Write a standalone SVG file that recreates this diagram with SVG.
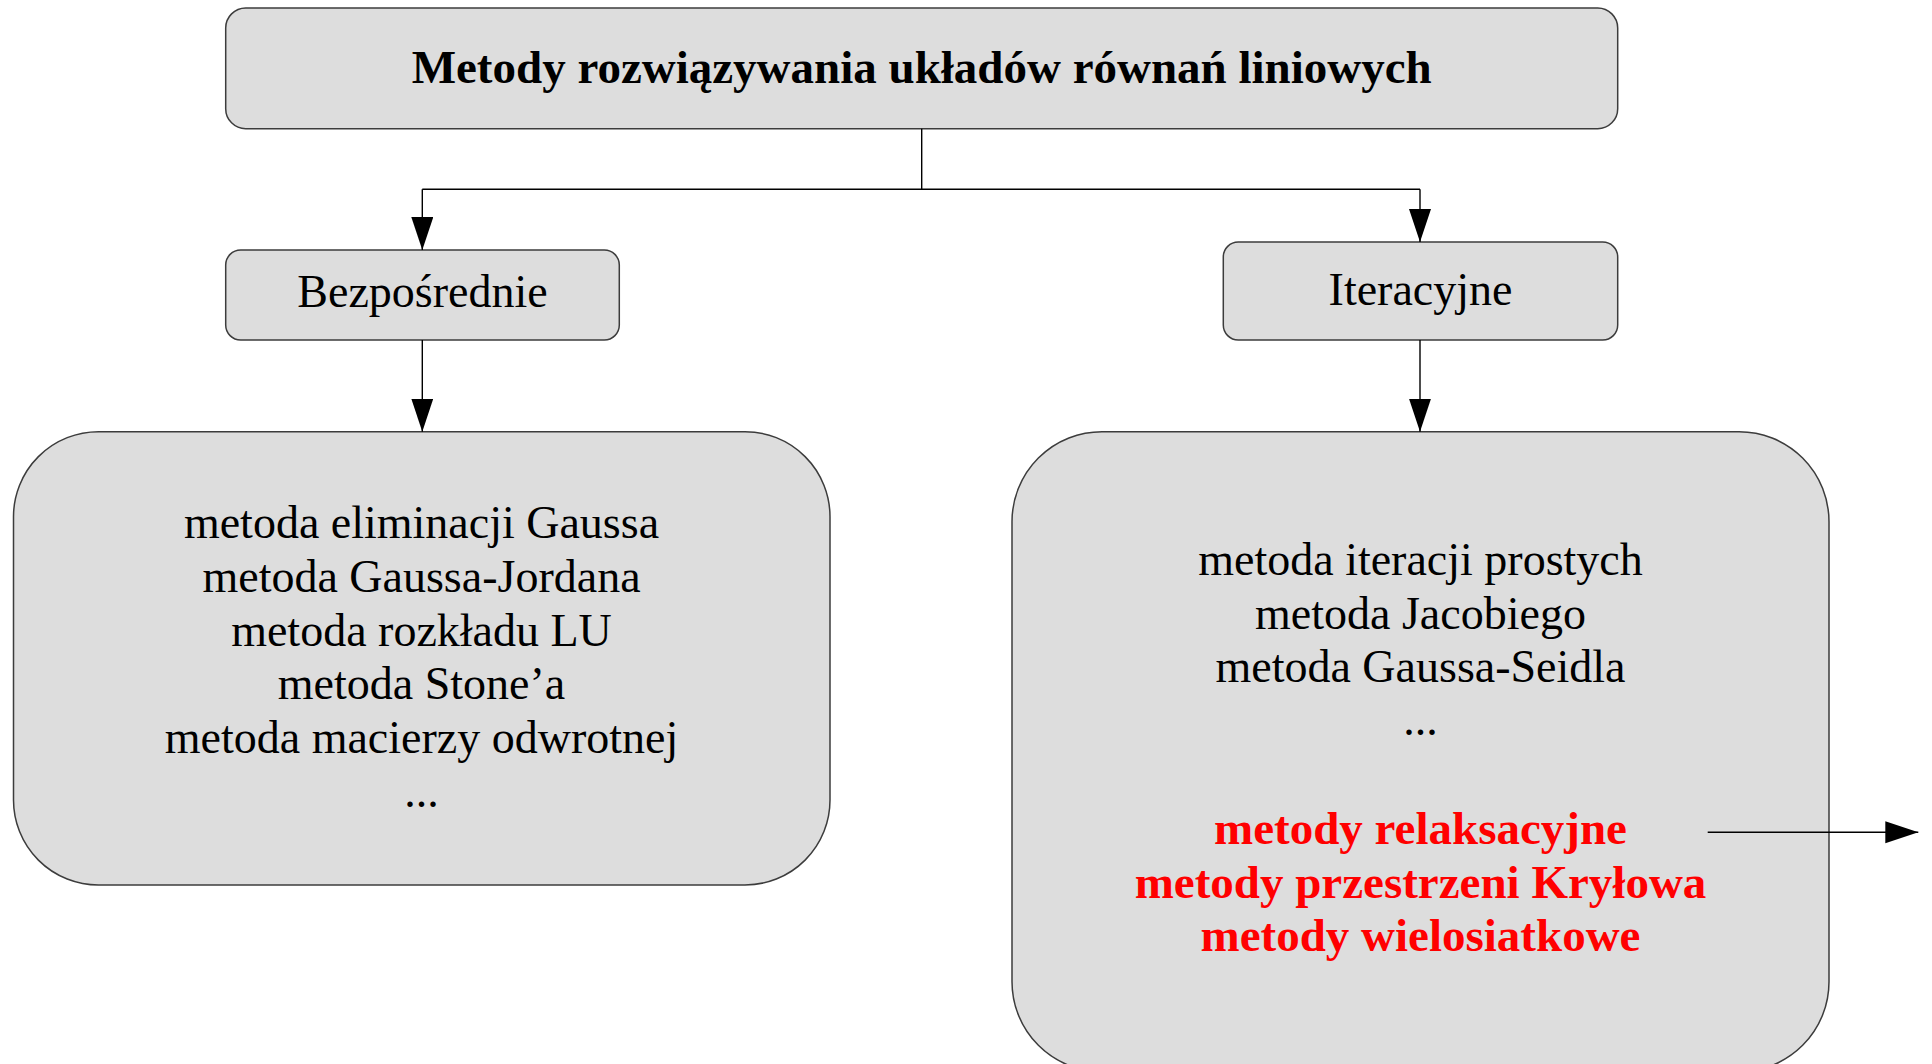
<svg xmlns="http://www.w3.org/2000/svg" width="1932" height="1064" viewBox="0 0 1932 1064">
  <style>
    .box { fill: #dddddd; stroke: #3c3c3c; stroke-width: 1.5; }
    .t { font-family: "Liberation Serif", "Times New Roman", serif; font-size: 46px; fill: #000000; text-anchor: middle; }
    .title { font-weight: bold; font-size: 47px; }
    .red { fill: #ff0000; font-weight: bold; font-size: 47px; }
    .conn { fill: none; stroke: #000000; stroke-width: 1.4; }
  </style>
  <defs>
    <marker id="arr" markerUnits="userSpaceOnUse" markerWidth="34" markerHeight="24" refX="33" refY="11" orient="auto">
      <path d="M0,0 L33,11 L0,22 Z" fill="#000000"/>
    </marker>
  </defs>
  <rect x="0" y="0" width="1932" height="1064" fill="#ffffff"/>

  <g id="title">
    <rect class="box" x="225.7" y="8" width="1392" height="120.7" rx="20" ry="20"/>
    <text class="t title" x="921.7" y="82.7">Metody rozwiązywania układów równań liniowych</text>
  </g>

  <g id="bezposrednie">
    <rect class="box" x="225.7" y="250" width="393.6" height="90" rx="15" ry="15"/>
    <text class="t" x="422.5" y="307.3">Bezpośrednie</text>
  </g>

  <g id="iteracyjne">
    <rect class="box" x="1223.3" y="242" width="394.4" height="98" rx="15" ry="15"/>
    <text class="t" x="1420.5" y="305">Iteracyjne</text>
  </g>

  <g id="direct-methods">
    <rect class="box" x="13.5" y="431.7" width="816.5" height="453.3" rx="85" ry="85"/>
    <text class="t" x="421.5" y="538.3">metoda eliminacji Gaussa</text>
    <text class="t" x="421.5" y="591.7">metoda Gaussa-Jordana</text>
    <text class="t" x="421.5" y="645.5">metoda rozkładu LU</text>
    <text class="t" x="421.5" y="699">metoda Stone’a</text>
    <text class="t" x="421.5" y="753">metoda macierzy odwrotnej</text>
    <text class="t" x="421.5" y="806.7">...</text>
  </g>

  <g id="iterative-methods">
    <rect class="box" x="1012" y="431.7" width="817" height="640" rx="90" ry="90"/>
    <text class="t" x="1420.5" y="575">metoda iteracji prostych</text>
    <text class="t" x="1420.5" y="628.5">metoda Jacobiego</text>
    <text class="t" x="1420.5" y="682">metoda Gaussa-Seidla</text>
    <text class="t" x="1420.5" y="734.5">...</text>
    <text class="t red" x="1420.5" y="844.3">metody relaksacyjne</text>
    <text class="t red" x="1420.5" y="897.7">metody przestrzeni Kryłowa</text>
    <text class="t red" x="1420.5" y="951">metody wielosiatkowe</text>
  </g>

  <g id="connectors">
    <path class="conn" d="M921.7,128.7 V189.3"/>
    <path class="conn" d="M422.3,189.3 H1420"/>
    <path class="conn" d="M422.3,189.3 V250" marker-end="url(#arr)"/>
    <path class="conn" d="M1420,189.3 V242" marker-end="url(#arr)"/>
    <path class="conn" d="M422.3,340 V431.7" marker-end="url(#arr)"/>
    <path class="conn" d="M1420,340 V431.7" marker-end="url(#arr)"/>
    <path class="conn" d="M1707.7,832.3 H1918.3" marker-end="url(#arr)"/>
  </g>
</svg>
